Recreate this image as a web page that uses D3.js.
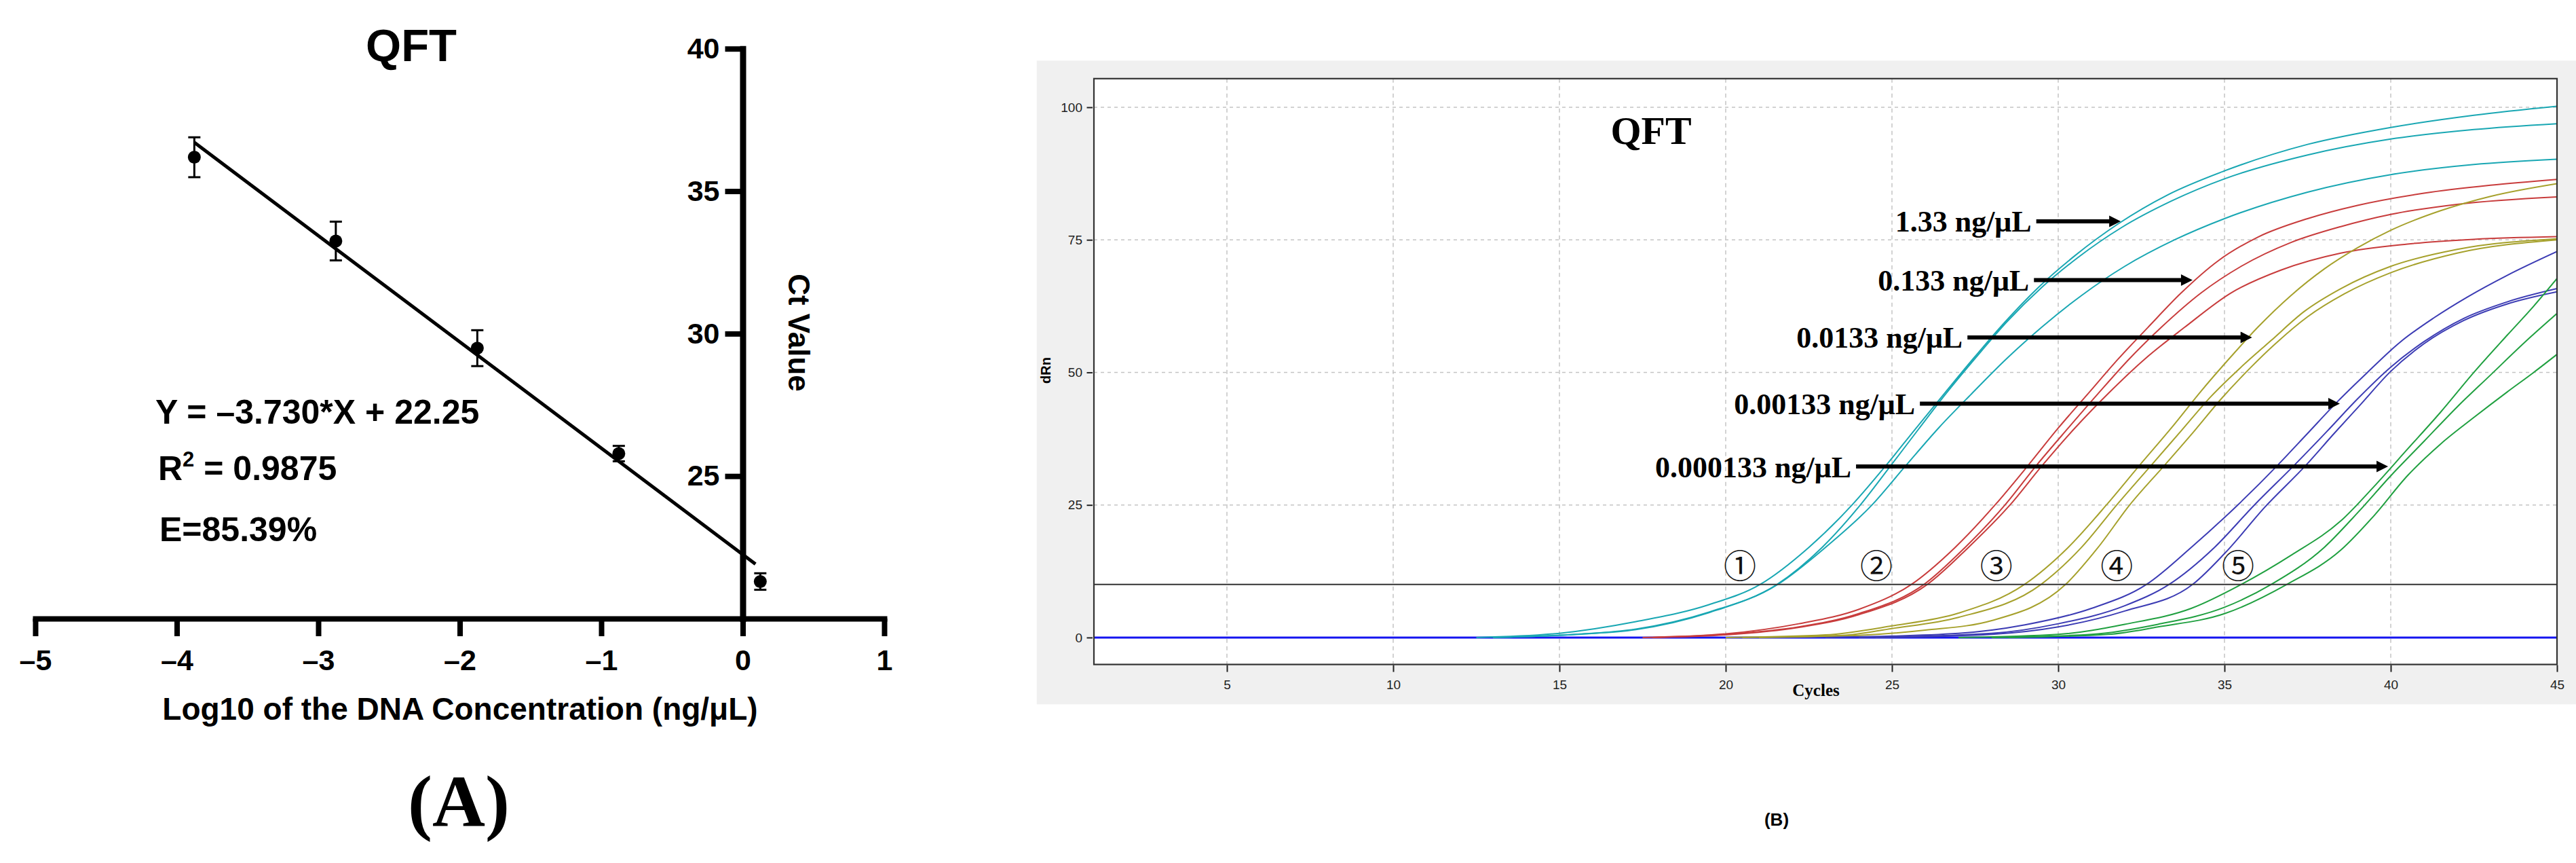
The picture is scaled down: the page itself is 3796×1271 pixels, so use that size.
<!DOCTYPE html>
<html><head><meta charset="utf-8">
<script src="https://cdn.jsdelivr.net/npm/d3@7"></script>
<style>body{margin:0;background:#fff}svg{display:block}</style>
</head><body>
<svg id="c" width="3796" height="1271"></svg>
<script>
// ---------------- Panel A data ----------------
const log10Conc = [-3.876, -2.876, -1.876, -0.876, 0.124];
const ctMean    = [36.19, 33.25, 29.49, 25.79, 21.30];
const ctSD      = [0.70, 0.68, 0.63, 0.27, 0.29];
const fitSlope = -3.730, fitIntercept = 22.25;
const fitRange = [-3.876, 0.09];
const xTicksA = [-5, -4, -3, -2, -1, 0, 1];
const yTicksA = [25, 30, 35, 40];

// ---------------- Panel B data (cycle, dRn) ----------------
const cyan1 = [[12.5,0],[15,0.8],[17.3,3.0],[19.5,6.2],[21.03,10],[22.5,17],[23.8,25],[24.8,32.3],[25.7,39.3],[26.6,46.2],[27.5,53],[28.4,59.5],[29.4,66],[30.5,72],[31.8,78],[33.3,83.5],[35,88],[37.5,93],[40,96.2],[42.5,98.5],[45,100.2]];
const cyan2 = [[13,0],[15.5,0.6],[17.3,1.6],[19.5,4.8],[21.54,10],[22.9,17],[24.05,25],[24.95,32.3],[25.8,39.3],[26.65,46.2],[27.55,53],[28.45,59.5],[29.5,66],[30.6,71.7],[31.9,77.3],[33.4,82.3],[35,86.5],[37.5,91],[40,94],[42.5,95.8],[45,96.9]];
const cyan3 = [[13,0],[15.5,0.6],[17.3,1.5],[19.5,4.7],[21.56,10],[23.0,17],[24.4,25],[25.4,32.3],[26.4,39.5],[27.4,46],[28.4,52.3],[29.5,58.5],[30.7,64.5],[32,70],[33.5,75],[35,79],[37.5,84],[40,87.3],[42.5,89.2],[45,90.2]];
const red1 = [[17.5,0],[20,0.7],[22.2,2.6],[24,5.3],[25.58,10],[26.9,17],[28.1,25],[29.1,32.5],[30.0,39.5],[30.9,46],[31.8,52.5],[32.7,58.5],[33.7,65],[34.8,71],[36,75.5],[37.5,79],[39,81.5],[41,83.8],[43,85.3],[45,86.4]];
const red2 = [[17.8,0],[20,0.6],[22.2,2.0],[24,4.5],[25.96,10],[27.2,17],[28.4,25],[29.35,32.5],[30.3,39.5],[31.2,46],[32.1,52.3],[33.1,58.5],[34.3,65],[35.5,70],[37,74.5],[38.5,77.5],[40,79.8],[42,81.7],[45,83.1]];
const red3 = [[17.8,0],[20,0.5],[22.2,1.9],[24,4.3],[26.06,10],[27.3,17],[28.55,25],[29.5,32.3],[30.5,39.5],[31.5,46],[32.6,52.5],[33.8,58.5],[35.2,65],[36.7,69.3],[38.5,72.5],[40.5,74.2],[42.5,75.1],[45,75.6]];
const olive1 = [[20,0],[23,0.5],[25,2.2],[27,4.6],[28.98,10],[30.3,17],[31.45,25],[32.45,32.5],[33.4,39.5],[34.3,46.5],[35.2,53],[36.0,58.5],[37,64.5],[38,69.5],[39,73.5],[40,76.8],[41.5,80.5],[43,83.2],[45,85.6]];
const olive2 = [[20.5,0],[23.5,0.4],[25,1.7],[27,3.8],[29.48,10],[30.7,17],[31.76,25],[32.8,32.5],[33.7,39],[34.6,45.5],[35.5,51],[36.4,56],[37.4,61.5],[38.5,65.8],[40,70],[42,73.2],[45,75.2]];
const olive3 = [[21,0],[24,0.4],[26,1.4],[28,3.2],[30.22,10],[31.2,17],[32.15,25],[33.2,32.5],[34.1,39],[34.9,45],[35.8,51],[36.6,55.8],[37.5,60.5],[38.6,64.8],[40,68.8],[42,72.5],[45,75.0]];
const blue1 = [[23,0],[27,0.8],[29,2.4],[31,5.5],[32.65,10],[34,17],[35.4,25],[36.6,32.5],[37.5,38.5],[38.4,44.5],[39.3,50],[40.3,55.8],[41.3,60.3],[42.3,64.2],[43.5,68.3],[45,72.8]];
const blue2 = [[24,0],[28,0.8],[30,2.6],[32,6],[33.33,10],[34.7,17],[35.9,25],[37.1,32.5],[38.1,39],[39,45],[40,51],[41,55.8],[42.2,60.2],[43.5,63.3],[45,65.8]];
const blue3 = [[24.5,0],[28,0.6],[30,2.0],[32,5],[34.04,10],[35.1,16.5],[36.2,24.5],[37.45,32.5],[38.3,38.5],[39.1,44],[40,50.2],[41,55.4],[42.2,59.8],[43.5,62.9],[45,65.2]];
const green1 = [[27,0],[30,0.6],[32,2.5],[34,5.5],[35.5,10],[37,15.5],[38.5,22],[39.5,28.5],[40.5,35.5],[41.5,42.5],[42.5,50],[43.5,57],[44.3,62.5],[45,67.7]];
const green2 = [[28,0],[31,0.6],[33,2.5],[35,5.7],[36.4,10],[38,17],[39,23.5],[40,30.5],[41,37],[42,43.5],[43,49.5],[44,55.5],[45,61.1]];
const green3 = [[28.5,0],[31.5,0.6],[33,2.0],[35,4.5],[36.87,10],[38.5,16.5],[39.5,23],[40.5,30.5],[41.5,36.5],[42.5,41.5],[43.5,46.3],[44.3,50],[45,53.4]];
const ntc = [[1,0],[45,0]];
const threshold = 10;

const concLabels = ['1.33 ng/μL','0.133 ng/μL','0.0133 ng/μL','0.00133 ng/μL','0.000133 ng/μL'];
const arrowFrom  = [29.34, 29.27, 27.27, 25.84, 23.92];
const arrowTo    = [31.88, 34.04, 35.83, 38.47, 39.92];
const arrowAt    = [78.5, 67.4, 56.6, 44.1, 32.25];
const circledMarks = ['①','②','③','④','⑤'];
const circledAt    = [20.43, 24.53, 28.14, 31.76, 35.41];
const circledValue = 13.94;
const xTicksB = [5,10,15,20,25,30,35,40,45];
const yTicksB = [0,25,50,75,100];
const gridCyclesB = [5,10,15,20,25,30,35,40];
const gridValuesB = [25,50,75,100];

const groups = [
  {color:'#19a7b3', curves:[cyan1,cyan2,cyan3]},
  {color:'#c83c3c', curves:[red1,red2,red3]},
  {color:'#a6a12c', curves:[olive1,olive2,olive3]},
  {color:'#3c3cb4', curves:[blue1,blue2,blue3]},
  {color:'#20a040', curves:[green1,green2,green3]}
];

const SANS = "'Liberation Sans', Arial, sans-serif";
const SERIF = "'Liberation Serif', 'Times New Roman', serif";
const svg = d3.select('#c');

// ================= Panel A =================
const xA = d3.scaleLinear().domain([-5, 1]).range([52, 1303]);
const yA = d3.scaleLinear().domain([20, 40]).range([911, 71.7]);
const gA = svg.append('g');

gA.append('text').attr('x', 606).attr('y', 90).attr('text-anchor', 'middle')
  .attr('font-family', SANS).attr('font-weight', 'bold').attr('font-size', 67).text('QFT');

const gx = gA.append('g').attr('transform', `translate(0,${yA(20)})`)
  .call(d3.axisBottom(xA).tickValues(xTicksA).tickSize(26).tickSizeOuter(0).tickPadding(19)
    .tickFormat(d => d < 0 ? '–' + Math.abs(d) : String(d)));
gx.select('.domain').attr('stroke', '#000').attr('stroke-width', 8).attr('stroke-linecap', 'square');
gx.selectAll('.tick line').attr('stroke', '#000').attr('stroke-width', 8);
gx.selectAll('.tick text').attr('font-family', SANS).attr('font-weight', 'bold').attr('font-size', 43).attr('fill', '#000');

const gy = gA.append('g').attr('transform', `translate(${xA(0)},0)`)
  .call(d3.axisLeft(yA).tickValues(yTicksA).tickSize(26).tickSizeOuter(0).tickPadding(8));
gy.select('.domain').attr('stroke', '#000').attr('stroke-width', 9).attr('stroke-linecap', 'square');
gy.selectAll('.tick line').attr('stroke', '#000').attr('stroke-width', 8);
gy.selectAll('.tick text').attr('font-family', SANS).attr('font-weight', 'bold').attr('font-size', 43).attr('fill', '#000');

// regression line
gA.append('line')
  .attr('x1', xA(fitRange[0])).attr('y1', yA(fitSlope * fitRange[0] + fitIntercept))
  .attr('x2', xA(fitRange[1])).attr('y2', yA(fitSlope * fitRange[1] + fitIntercept))
  .attr('stroke', '#000').attr('stroke-width', 5);

// error bars + points
const pts = log10Conc.map((x, i) => ({x, m: ctMean[i], s: ctSD[i]}));
const eb = gA.append('g').attr('stroke', '#000').attr('stroke-width', 3);
pts.forEach(p => {
  eb.append('line').attr('x1', xA(p.x)).attr('x2', xA(p.x)).attr('y1', yA(p.m + p.s)).attr('y2', yA(p.m - p.s));
  eb.append('line').attr('x1', xA(p.x) - 9).attr('x2', xA(p.x) + 9).attr('y1', yA(p.m + p.s)).attr('y2', yA(p.m + p.s));
  eb.append('line').attr('x1', xA(p.x) - 9).attr('x2', xA(p.x) + 9).attr('y1', yA(p.m - p.s)).attr('y2', yA(p.m - p.s));
});
gA.append('g').selectAll('circle').data(pts).join('circle')
  .attr('cx', d => xA(d.x)).attr('cy', d => yA(d.m)).attr('r', 9.5).attr('fill', '#000');

// equation text
const eqStyle = s => s.attr('font-family', SANS).attr('font-weight', 'bold').attr('font-size', 50).attr('fill', '#000');
gA.append('text').attr('x', 229).attr('y', 624).call(eqStyle).text('Y = –3.730*X + 22.25');
const r2 = gA.append('text').attr('x', 233).attr('y', 707).call(eqStyle);
r2.append('tspan').text('R');
r2.append('tspan').attr('font-size', 31).attr('dy', -20).text('2');
r2.append('tspan').attr('dy', 20).text(' = 0.9875');
gA.append('text').attr('x', 235).attr('y', 797).call(eqStyle).text('E=85.39%');

gA.append('text').attr('transform', 'translate(1162,490) rotate(90)').attr('text-anchor', 'middle')
  .attr('font-family', SANS).attr('font-weight', 'bold').attr('font-size', 44).text('Ct Value');

gA.append('text').attr('x', 678).attr('y', 1060).attr('text-anchor', 'middle')
  .attr('font-family', SANS).attr('font-weight', 'bold').attr('font-size', 46)
  .text('Log10 of the DNA Concentration (ng/μL)');

gA.append('text').attr('x', 676).attr('y', 1217).attr('text-anchor', 'middle')
  .attr('font-family', SERIF).attr('font-weight', 'bold').attr('font-size', 108).text('(A)');

// ================= Panel B =================
const xB = d3.scaleLinear().domain([1, 45]).range([1612, 3768]);
const yB = d3.scaleLinear().domain([-5.08, 105.4]).range([978.6, 115.8]);
const gB = svg.append('g');

gB.append('rect').attr('x', 1527.7).attr('y', 89.3).attr('width', 3796 - 1527.7).attr('height', 1037.3 - 89.3).attr('fill', '#f0f0f0');
const [px0, px1] = xB.range(), [py0, py1] = yB.range();
gB.append('rect').attr('x', px0).attr('y', py1).attr('width', px1 - px0).attr('height', py0 - py1).attr('fill', '#fff');

gB.append('defs').append('clipPath').attr('id', 'clipB').append('rect')
  .attr('x', px0).attr('y', py1).attr('width', px1 - px0).attr('height', py0 - py1);

// grid
const grid = gB.append('g').attr('stroke', '#c4c4c4').attr('stroke-width', 1.5);
gridCyclesB.forEach(c => grid.append('line').attr('x1', xB(c)).attr('x2', xB(c)).attr('y1', py1).attr('y2', py0).attr('stroke-dasharray', '6,5'));
gridValuesB.forEach(v => grid.append('line').attr('x1', px0).attr('x2', px1).attr('y1', yB(v)).attr('y2', yB(v)).attr('stroke-dasharray', '5,5'));

const line = d3.line().x(d => xB(d[0])).y(d => yB(d[1])).curve(d3.curveMonotoneX);
const plot = gB.append('g').attr('clip-path', 'url(#clipB)');
plot.append('path').attr('d', line(ntc)).attr('fill', 'none').attr('stroke', '#1414f0').attr('stroke-width', 3);
groups.forEach(g => g.curves.forEach(c => {
  plot.append('path').attr('d', line(c)).attr('fill', 'none').attr('stroke', g.color).attr('stroke-width', 2);
}));
plot.append('line').attr('x1', px0).attr('x2', px1).attr('y1', yB(threshold)).attr('y2', yB(threshold))
  .attr('stroke', '#333').attr('stroke-width', 2);

// frame
gB.append('rect').attr('x', px0).attr('y', py1).attr('width', px1 - px0).attr('height', py0 - py1)
  .attr('fill', 'none').attr('stroke', '#333').attr('stroke-width', 2.2);

// axes
const ax = gB.append('g').attr('transform', `translate(0,${py0 + 1})`)
  .call(d3.axisBottom(xB).tickValues(xTicksB).tickSize(10).tickSizeOuter(0).tickPadding(12));
ax.select('.domain').remove();
ax.selectAll('.tick line').attr('stroke', '#222').attr('stroke-width', 2);
ax.selectAll('.tick text').attr('font-family', SANS).attr('font-size', 19).attr('fill', '#222');
const ay = gB.append('g').attr('transform', `translate(${px0 - 2},0)`)
  .call(d3.axisLeft(yB).tickValues(yTicksB).tickSize(8.5).tickSizeOuter(0).tickPadding(6.5));
ay.select('.domain').remove();
ay.selectAll('.tick line').attr('stroke', '#222').attr('stroke-width', 2);
ay.selectAll('.tick text').attr('font-family', SANS).attr('font-size', 19).attr('fill', '#222');

gB.append('text').attr('transform', 'translate(1547.5,545.5) rotate(-90)').attr('text-anchor', 'middle')
  .attr('font-family', SANS).attr('font-weight', 'bold').attr('font-size', 20).text('dRn');
gB.append('text').attr('x', 2676).attr('y', 1025).attr('text-anchor', 'middle')
  .attr('font-family', SERIF).attr('font-weight', 'bold').attr('font-size', 25).text('Cycles');
gB.append('text').attr('x', 2433).attr('y', 212).attr('text-anchor', 'middle')
  .attr('font-family', SERIF).attr('font-weight', 'bold').attr('font-size', 58).text('QFT');
gB.append('text').attr('x', 2618).attr('y', 1216).attr('text-anchor', 'middle')
  .attr('font-family', SANS).attr('font-weight', 'bold').attr('font-size', 26).text('(B)');

// arrows + labels
const ann = gB.append('g');
concLabels.forEach((lab, i) => {
  const xs = xB(arrowFrom[i]), xe = xB(arrowTo[i]), yy = yB(arrowAt[i]);
  ann.append('line').attr('x1', xs).attr('x2', xe - 14).attr('y1', yy).attr('y2', yy)
    .attr('stroke', '#000').attr('stroke-width', 6);
  ann.append('path').attr('d', `M${xe},${yy} L${xe - 17},${yy - 8.5} L${xe - 17},${yy + 8.5} Z`).attr('fill', '#000');
  ann.append('text').attr('x', xs - 7).attr('y', yy + 15.5).attr('text-anchor', 'end')
    .attr('font-family', SERIF).attr('font-weight', 'bold').attr('font-size', 44).text(lab);
});
circledMarks.forEach((m, i) => {
  ann.append('text').attr('x', xB(circledAt[i])).attr('y', yB(circledValue)).attr('text-anchor', 'middle')
    .attr('dominant-baseline', 'central').attr('font-family', "'Noto Sans CJK JP', 'DejaVu Sans', sans-serif")
    .attr('font-size', 48).attr('fill', '#111').text(m);
});
</script>
</body></html>
